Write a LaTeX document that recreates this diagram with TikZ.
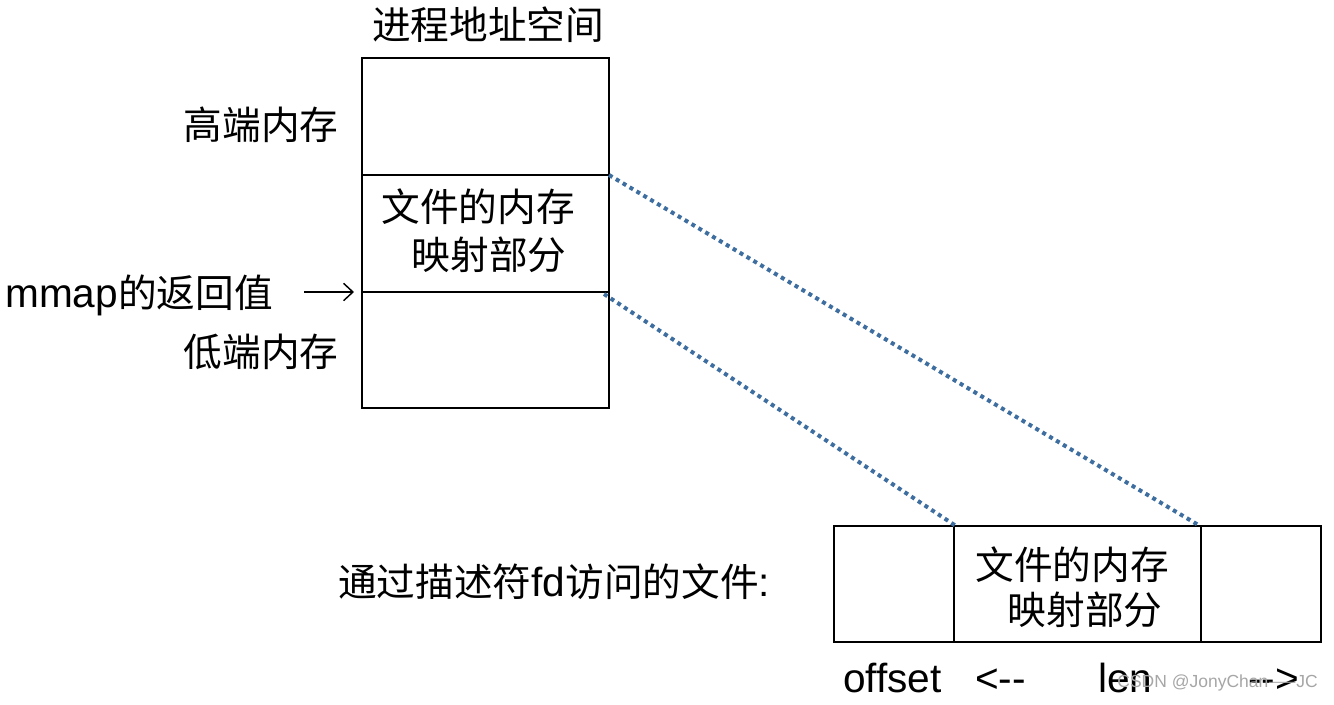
\documentclass[tikz,border=0pt]{standalone}
\usepackage{fontspec}
\usetikzlibrary{arrows.meta}
\setmainfont{Liberation Sans}[Scale=1.05]
\newfontfamily\cjk{Noto Sans CJK SC}
\begin{document}
\begin{tikzpicture}[x=0.75pt,y=-0.75pt,
  box/.style={draw=black,line width=1.5pt},
  lbl/.style={inner sep=0pt,font=\fontsize{29}{34}\selectfont},
  mapline/.style={draw={rgb,255:red,62;green,110;blue,160},line width=3pt,line cap=butt,dash pattern=on 3pt off 3pt},
  arr/.style={-{Straight Barb[length=7pt,width=13pt,line width=1.1pt]},line width=1.1pt}]
\useasboundingbox (0,0) rectangle (1334,704);
% upper box
\draw[box] (362,58) rectangle (609,408);
\draw[box] (362,175) -- (609,175);
\draw[box] (362,292) -- (609,292);
\coordinate (uTR) at (609,175);
\coordinate (uBL) at (604,294);
\node[lbl] (title) at (488,25) {\cjk 进程地址空间};
\node[lbl] (hi) at (261,125) {\cjk 高端内存};
\node[lbl] (lo) at (261,352) {\cjk 低端内存};
\node[lbl] (m1) at (478,207) {\cjk 文件的内存};
\node[lbl] (m2) at (489,255) {\cjk 映射部分};
\node[lbl,anchor=west] (ret) at (5,295) {mmap{\cjk 的返回值}};
\coordinate (arrS) at (304,292);
\coordinate (arrE) at (354,292);
\draw[arr] (arrS) -- (arrE);
% lower box
\draw[box] (834,526) rectangle (1321,642);
\draw[box] (954,526) -- (954,642);
\draw[box] (1201,526) -- (1201,642);
\coordinate (lA) at (956,526);
\coordinate (lB) at (1200,526);
\node[lbl] (f1) at (1072,565) {\cjk 文件的内存};
\node[lbl] (f2) at (1085,610) {\cjk 映射部分};
\node[lbl,anchor=west] (fd) at (338,582) {{\cjk 通过描述符}fd{\cjk 访问的文件}:};
\node[lbl,anchor=west] (off) at (843,678) {offset};
\node[lbl,anchor=west] (la) at (975,681) {<{-}{-}};
\node[lbl,anchor=west] (len) at (1098,678) {len};
\node[lbl,anchor=west] (ra) at (1248,681) {{-}{-}>};
\node[inner sep=0pt,anchor=east,text=black!35,font=\fontsize{12.5}{15}\selectfont] (wm) at (1318,683) {CSDN @JonyChan{\cjk ——}JC};
% mapping lines
\draw[mapline] (uTR) -- (lB);
\draw[mapline] (uBL) -- (lA);
\end{tikzpicture}
\end{document}
